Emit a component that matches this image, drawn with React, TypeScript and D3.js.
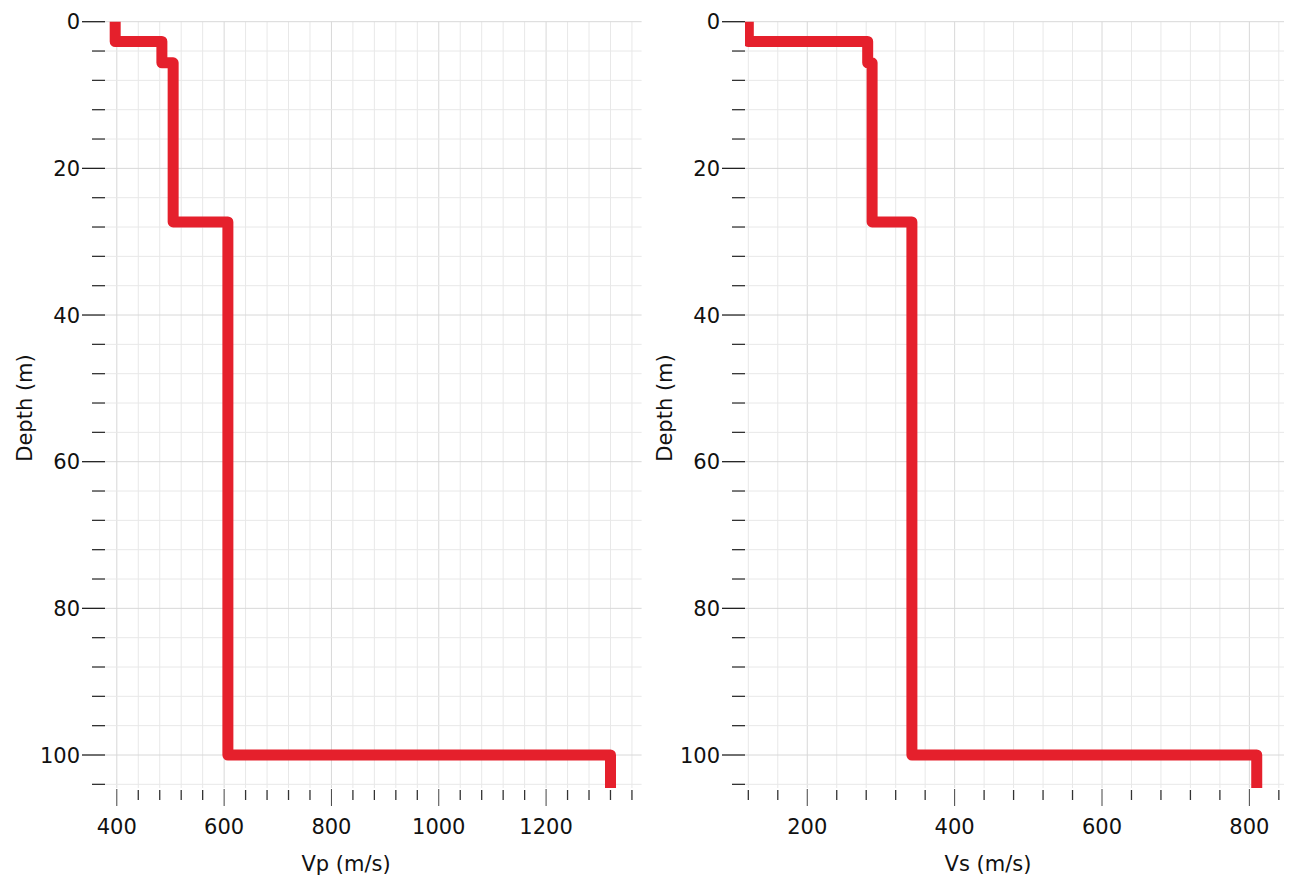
import React from "react";
import * as d3 from "d3";

// Layer boundaries (depth, m)
const layerTop = [0, 2.7, 5.6, 27.3, 100];
const layerBottom = [2.7, 5.6, 27.3, 100, 104.5];
// Velocities per layer (m/s)
const vpValues = [397, 484, 505, 607, 1320];
const vsValues = [120, 282, 288, 342, 810];

// Tick labels
const depthTicks = [0, 20, 40, 60, 80, 100];
const vpTicks = [400, 600, 800, 1000, 1200];
const vsTicks = [200, 400, 600, 800];

const RED = "#e5202c";
const FONT = "'DejaVu Sans', Verdana, sans-serif";

type PanelProps = {
  left: number;
  right: number;
  xDomain: [number, number];
  majorX: number[];
  minorStart: number;
  minorEnd: number;
  values: number[];
  title: string;
  titleX: number;
};

const TOP = 21.7;
const BOTTOM = 788;

function Panel({ left, right, xDomain, majorX, minorStart, minorEnd, values, title, titleX }: PanelProps) {
  const x = d3.scaleLinear().domain(xDomain).range([left, right]);
  const y = d3.scaleLinear().domain([0, 104.5]).range([TOP, BOTTOM]);
  const minorX = d3.range(minorStart, minorEnd + 1, 40).filter((v) => !majorX.includes(v));
  const allX = d3.range(minorStart, minorEnd + 1, 40);
  const allY = d3.range(0, 105, 4);
  const minorY = allY.filter((v) => !depthTicks.includes(v));

  const pts: [number, number][] = [];
  values.forEach((v, i) => {
    pts.push([v, layerTop[i]]);
    pts.push([v, layerBottom[i]]);
  });
  const line = d3
    .line<[number, number]>()
    .x((d) => x(d[0]))
    .y((d) => y(d[1]));
  const clipId = `clip-${left}`;

  return (
    <g>
      <defs>
        <clipPath id={clipId}>
          <rect x={left} y={TOP - 10} width={right - left} height={BOTTOM - TOP + 10} />
        </clipPath>
      </defs>
      {/* grid */}
      {allX.map((v) => (
        <line key={`gx${v}`} x1={x(v)} x2={x(v)} y1={TOP} y2={BOTTOM} stroke={majorX.includes(v) ? "#d8d8d8" : "#e8e8e8"} strokeWidth={1} />
      ))}
      {allY.map((v) => (
        <line key={`gy${v}`} x1={left} x2={right} y1={y(v)} y2={y(v)} stroke={depthTicks.includes(v) ? "#d8d8d8" : "#e8e8e8"} strokeWidth={1} />
      ))}
      {/* y ticks */}
      {depthTicks.map((v) => (
        <g key={`yt${v}`}>
          <line x1={left - 23} x2={left} y1={y(v)} y2={y(v)} stroke="#222" strokeWidth={1.3} />
          <text x={left - 25} y={y(v)} dy="0.36em" textAnchor="end" fontFamily={FONT} fontSize={21} fill="#111">
            {v}
          </text>
        </g>
      ))}
      {minorY.map((v) => (
        <line key={`ym${v}`} x1={left - 13} x2={left} y1={y(v)} y2={y(v)} stroke="#333" strokeWidth={1.3} />
      ))}
      {/* x ticks */}
      {majorX.map((v) => (
        <g key={`xt${v}`}>
          <line x1={x(v)} x2={x(v)} y1={BOTTOM + 1} y2={BOTTOM + 18} stroke="#444" strokeWidth={1} />
          <text x={x(v)} y={834} textAnchor="middle" fontFamily={FONT} fontSize={21} fill="#111">
            {v}
          </text>
        </g>
      ))}
      {minorX.map((v) => (
        <line key={`xm${v}`} x1={x(v)} x2={x(v)} y1={BOTTOM + 2} y2={BOTTOM + 12} stroke="#333" strokeWidth={1.3} />
      ))}
      {/* profile */}
      <path d={line(pts) || ""} fill="none" stroke={RED} strokeWidth={11} strokeLinejoin="round" strokeLinecap="butt" clipPath={`url(#${clipId})`} />
      {/* titles */}
      <text x={titleX} y={871} textAnchor="middle" fontFamily={FONT} fontSize={21} fill="#111">
        {title}
      </text>
      <text transform={`translate(${left - 73},${408}) rotate(-90)`} textAnchor="middle" fontFamily={FONT} fontSize={21} fill="#111">
        Depth (m)
      </text>
    </g>
  );
}

export default function App() {
  return (
    <svg width={1292} height={881} style={{ position: "absolute", left: 0, top: 0, background: "#fff" }}>
      <rect width={1292} height={881} fill="#fff" />
      <Panel left={105} right={641.6} xDomain={[378, 1378]} majorX={vpTicks} minorStart={400} minorEnd={1360} values={vpValues} title="Vp (m/s)" titleX={346} />
      <Panel left={745} right={1284} xDomain={[115.5, 847]} majorX={vsTicks} minorStart={120} minorEnd={840} values={vsValues} title="Vs (m/s)" titleX={988} />
    </svg>
  );
}
